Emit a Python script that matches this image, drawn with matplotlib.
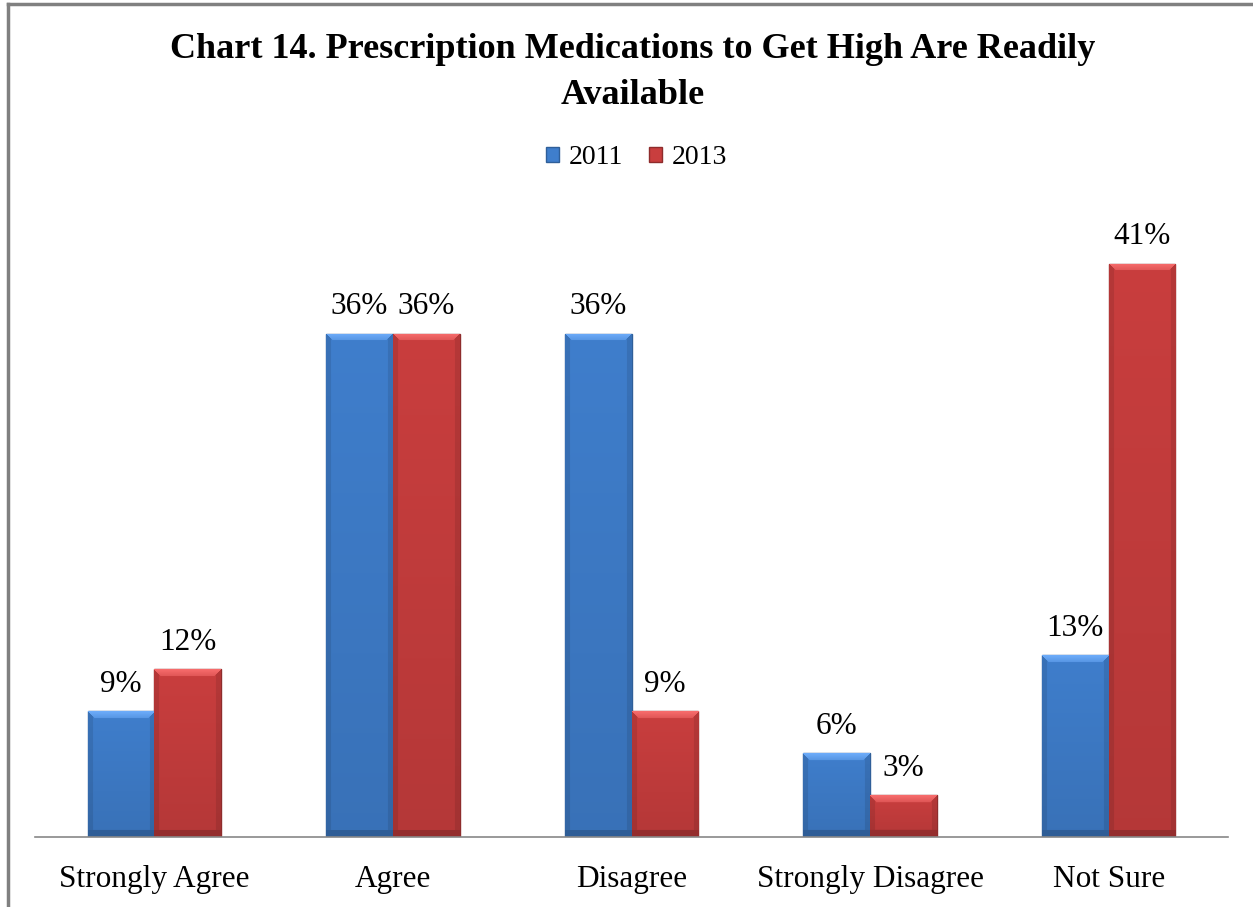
import matplotlib

matplotlib.use("Agg")
import matplotlib.pyplot as plt
import numpy as np
from matplotlib.colors import to_rgb
from matplotlib.lines import Line2D
from matplotlib.patches import Rectangle

plt.rcParams["font.family"] = ["Liberation Serif", "DejaVu Serif"]

categories = ["Strongly Agree", "Agree", "Disagree", "Strongly Disagree", "Not Sure"]
years = ["2011", "2013"]
values_2011 = [9, 36, 36, 6, 13]
values_2013 = [12, 36, 9, 3, 41]

face = {"2011": "#3F7ECC", "2013": "#C93E3E"}
edge = {"2011": "#2F5F99", "2013": "#8E2C2C"}


def bevel(ax, bar, color):
    # fake the Excel bevel: light top strip, darker sides and bottom
    x0, y0 = bar.get_x(), bar.get_y()
    w, h = bar.get_width(), bar.get_height()
    p0 = ax.transData.transform((x0, y0))
    p1 = ax.transData.transform((x0 + w, y0 + h))
    npx_w = max(int(abs(p1[0] - p0[0])), 2)
    npx_h = max(int(abs(p1[1] - p0[1])), 2)
    base = np.array(to_rgb(color))
    img = np.tile(base, (npx_h, npx_w, 1))
    b = min(7, npx_h // 3)
    light = np.clip(base + 0.18, 0, 1)
    dark = base * 0.82
    img[:, :5] = img[:, :5] * 0.9
    img[:, -5:] = img[:, -5:] * 0.9
    img[-b:, :] = dark
    for k in range(b):
        img[k, k:npx_w - k] = light * (1 - k / (2 * b)) + base * (k / (2 * b))
    # slight vertical fade toward the bottom
    fade = np.linspace(1.0, 0.9, npx_h)[:, None, None]
    img = img * fade
    im = ax.imshow(img, extent=(x0, x0 + w, y0, y0 + h), aspect="auto",
                   interpolation="bilinear", zorder=2.5)
    im.set_clip_path(bar)


fig = plt.figure(figsize=(12.53, 9.07), dpi=100)
ax = fig.add_axes([0.028, 0.0772, 0.952, 0.6935])

x = np.arange(len(categories))
width = 0.28
ax.set_xlim(-0.5, len(categories) - 0.5)
ax.set_ylim(0, 45)
for i, (year, vals) in enumerate(zip(years, [values_2011, values_2013])):
    pos = x + (i - 0.5) * width
    bars = ax.bar(pos, vals, width, color=face[year], edgecolor=edge[year],
                  linewidth=1.0, label=year, zorder=2)
    for bb, v in zip(bars, vals):
        bevel(ax, bb, face[year])
        ax.annotate(f"{v}%", (bb.get_x() + bb.get_width() / 2, v),
                    xytext=(0, 9), textcoords="offset points",
                    ha="center", va="bottom", fontsize=22.5)

ax.set_xticks(x)
ax.set_xticklabels(categories, fontsize=22.5)
ax.tick_params(axis="x", length=0, pad=20)
ax.set_yticks([])
for side in ["left", "right", "top"]:
    ax.spines[side].set_visible(False)
ax.spines["bottom"].set_color("#888888")
ax.spines["bottom"].set_linewidth(1.2)
ax.spines["bottom"].set_zorder(3)

fig.text(0.505, 0.964, "Chart 14. Prescription Medications to Get High Are Readily\nAvailable",
         ha="center", va="top", fontsize=26, fontweight="bold", linespacing=1.52)

handles = [Rectangle((0, 0), 1, 1, facecolor=face[y], edgecolor=edge[y]) for y in years]
fig.legend(handles, years, loc="center", bbox_to_anchor=(0.508, 0.826), ncol=2,
           frameon=False, fontsize=20, handlelength=0.47, handleheight=0.47,
           handletextpad=0.35, columnspacing=0.9)

# outer chart border (only top and left edges visible in the crop)
fig.add_artist(Line2D([8 / 1253, 8 / 1253], [0, 1 - 4 / 907], transform=fig.transFigure,
                      color="#808080", linewidth=2.5))
fig.add_artist(Line2D([8 / 1253, 1], [1 - 4 / 907, 1 - 4 / 907], transform=fig.transFigure,
                      color="#808080", linewidth=2.5))

fig.savefig("out.png", dpi=100)
